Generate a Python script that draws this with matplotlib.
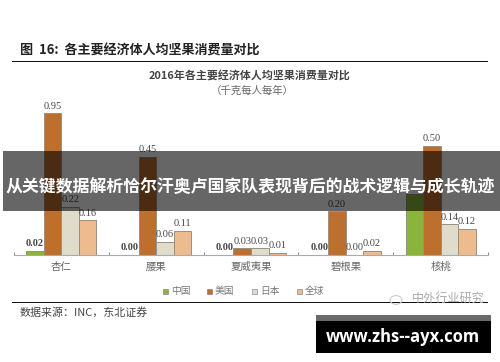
import matplotlib
matplotlib.use("Agg")
import numpy as np
import matplotlib.pyplot as plt
from matplotlib.patches import Rectangle

W, H = 500, 362
CJK = ["Noto Sans CJK SC", "DejaVu Sans"]
SERIF = ["Liberation Serif", "DejaVu Serif"]

categories = ["杏仁", "腰果", "夏威夷果", "碧根果", "核桃"]
series_names = ["中国", "美国", "日本", "全球"]
colors = ["#8ab53a", "#bd6f2e", "#e0dccb", "#edbb8e"]

# labelled values, None where no label can be seen
china = [0.02, 0.00, 0.00, 0.00, None]
usa = [0.95, 0.45, 0.03, 0.20, 0.50]
japan = [0.22, 0.06, 0.03, 0.00, 0.14]
world = [0.16, 0.11, 0.01, 0.02, 0.12]

# bar heights where they differ from the labels in the source chart
china_drawn = [0.02, 0.00, 0.00, 0.00, 0.28]
usa_drawn = [0.65, 0.45, 0.03, 0.20, 0.50]


def fx(px):
    return px / W


def fy(py):
    return 1 - py / H


def page_text(px, py, s, **kw):
    kw.setdefault("family", CJK)
    kw.setdefault("va", "center")
    fig.text(fx(px), fy(py), s, **kw)


def page_rect(x0, y0, x1, y1, color, alpha=1.0, zorder=10):
    fig.add_artist(Rectangle((fx(x0), fy(y1)), fx(x1 - x0), fy(y0) - fy(y1),
                             transform=fig.transFigure, facecolor=color,
                             edgecolor="none", alpha=alpha, zorder=zorder))


fig = plt.figure(figsize=(W / 100, H / 100), dpi=100, facecolor="white")
ax = fig.add_axes([fx(14), fy(255), fx(474), fy(100) - fy(255)])

x = np.arange(len(categories))
bar_w = 0.185
drawn = [china_drawn, usa_drawn, japan, world]
shown = [china, usa, japan, world]
bold = [True, False, False, False]

for i, (vals, labels) in enumerate(zip(drawn, shown)):
    pos = x + (i - 1.5) * bar_w
    ax.bar(pos, vals, bar_w, color=colors[i], edgecolor="#9a9080", linewidth=0.7)
    for p, v, lab in zip(pos, vals, labels):
        if lab is None:
            continue
        ax.text(p, v + 0.012, f"{lab:.2f}", ha="center", va="bottom",
                fontsize=7.5, family=SERIF, color="#484848",
                fontweight="bold" if bold[i] else "normal")

ax.set_xlim(-0.5, 4.5)
ax.set_ylim(0, 155 / 218)
ax.set_yticks([])
ax.set_xticks(np.arange(6) - 0.5)
ax.set_xticklabels([])
ax.tick_params(axis="x", direction="in", length=2.5, width=0.6, color="#777777")
for c, name in zip(x, categories):
    ax.annotate(name, (c, 0), xytext=(0, -8.6), textcoords="offset points",
                xycoords=("data", "axes fraction"), ha="center", va="center",
                fontsize=7.5, family=CJK, color="#666666")
for s in ["top", "left", "right"]:
    ax.spines[s].set_visible(False)
ax.spines["bottom"].set_color("#aaaaaa")
ax.spines["bottom"].set_linewidth(0.8)
ax.patch.set_alpha(0)

# page header and footer of the report
page_text(20, 51, "图  16:  各主要经济体人均坚果消费量对比", fontsize=9.4,
          fontweight="bold", color="#222222")
page_rect(12, 61, 488, 62, "#111111", zorder=1)
page_text(250, 75, "2016年各主要经济体人均坚果消费量对比", fontsize=7.9,
          fontweight="bold", color="#444444", ha="center")
page_text(252, 91, "（千克每人每年）", fontsize=7.5, color="#666666", ha="center")
page_rect(12, 302, 488, 303, "#111111", zorder=1)
page_text(20, 312, "数据来源：INC，东北证券", fontsize=7.9, color="#444444")

# legend
for px, name, c in zip([163, 207, 252, 297], series_names, colors):
    fig.add_artist(Rectangle((fx(px), fy(294)), fx(5), fy(289) - fy(294),
                             transform=fig.transFigure, facecolor=c,
                             edgecolor="#777777", linewidth=0.4))
    page_text(px + 8, 291, name, fontsize=7, color="#777777")

# watermark
page_text(412, 298, "中外行业研究", fontsize=8.7, color="#aaaaaa", zorder=6)
fig.add_artist(plt.Circle((fx(396), fy(300)), 0.012, transform=fig.transFigure,
                          fill=False, edgecolor="#cccccc", linewidth=0.8))

# overlaid banner
page_rect(3, 151, 500, 211, "black", alpha=0.6)
page_text(250, 187, "从关键数据解析恰尔汗奥卢国家队表现背后的战术逻辑与成长轨迹",
          fontsize=12.2, fontweight="bold", color="white", ha="center", zorder=11)

# site stamp
page_rect(316, 315, 491, 353, "black")
page_rect(316, 315, 491, 321, "#6a6a6a", zorder=11)
page_text(403, 337, "www.zhs--ayx.com", fontsize=12, fontweight="bold",
          family=["Open Sans", "DejaVu Sans"], color="white", ha="center", zorder=11)

fig.savefig("out.png", dpi=100)
